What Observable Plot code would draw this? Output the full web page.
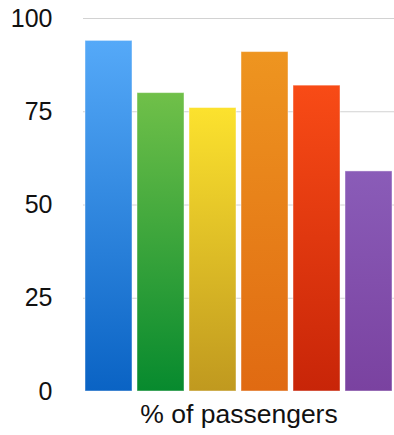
<!DOCTYPE html>
<html>
<head>
<meta charset="utf-8">
<script src="https://cdn.jsdelivr.net/npm/d3@7"></script>
<script src="https://cdn.jsdelivr.net/npm/@observablehq/plot@0.6"></script>
<style>
  html, body { margin: 0; padding: 0; background: #fff; }
  #chart svg { display: block; font-family: "Liberation Sans", Arial, Helvetica, sans-serif; }
</style>
</head>
<body>
<div id="chart"></div>
<script>
// Data
const categories = ["A", "B", "C", "D", "E", "F"];
const values = [94, 80, 76, 91, 82, 59];
const yTicks = [0, 25, 50, 75, 100];
const xLabel = "% of passengers";

// Palette (top -> bottom gradient stops)
const topColors = ["#55a9f8", "#70c049", "#fce22e", "#ee9520", "#f84b16", "#8a5cb8"];
const bottomColors = ["#0a63c4", "#078a2e", "#c0991f", "#e06a12", "#c82508", "#7a42a0"];

const data = categories.map((c, i) => ({cat: c, value: values[i], grad: `url(#grad${i})`}));

const defs = () => {
  const d = d3.create("svg:defs");
  categories.forEach((c, i) => {
    const g = d.append("linearGradient")
      .attr("id", `grad${i}`)
      .attr("x1", 0).attr("y1", 0).attr("x2", 0).attr("y2", 1);
    g.append("stop").attr("offset", "0%").attr("stop-color", topColors[i]);
    g.append("stop").attr("offset", "100%").attr("stop-color", bottomColors[i]);
  });
  return d.node();
};

const chart = Plot.plot({
  width: 394,
  height: 435,
  marginTop: 18,
  marginBottom: 44,
  marginLeft: 83,
  marginRight: 0,
  x: {domain: categories, paddingInner: 0.09, paddingOuter: 0.02, axis: null},
  y: {domain: [0, 100], axis: null},
  color: {type: "identity"},
  marks: [
    defs,
    Plot.ruleY(yTicks.filter(t => t > 0), {stroke: "#d2d2d2", strokeWidth: 1}),
    Plot.barY(data, {x: "cat", y: "value", fill: "grad", stroke: "#ffffff", strokeOpacity: 0.45, strokeWidth: 1}),
    Plot.axisY(yTicks, {tickSize: 0, tickPadding: 31, fontSize: 25, fill: "#111", textAnchor: "end", label: null}),
    Plot.text([xLabel], {frameAnchor: "bottom", dy: 31, fontSize: 26.5, fill: "#111", text: d => d})
  ]
});

document.getElementById("chart").appendChild(chart);
</script>
</body>
</html>
